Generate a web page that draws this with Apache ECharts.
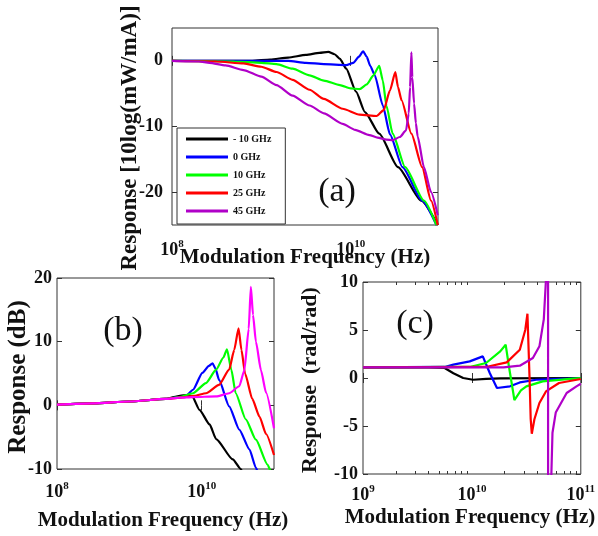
<!DOCTYPE html>
<html><head><meta charset="utf-8">
<script src="https://cdn.jsdelivr.net/npm/echarts@6/dist/echarts.min.js"></script>
<style>html,body{margin:0;padding:0;background:#fff}#c{width:598px;height:536px}</style>
</head><body><div id="c"></div>
<script>
// Frequencies are in GHz (axis labels are shown in Hz as 10^n)
const seriesNames = ['- 10 GHz', '0 GHz', '10 GHz', '25 GHz', '45 GHz'];
const colorsA = ['#000000', '#0000ff', '#00ff00', '#ff0000', '#b000c8'];
const colorsB = ['#000000', '#0000ff', '#00ff00', '#ff0000', '#ff00ff'];

// ---- (a) Response [10log(mW/mA)] ----
const aF0 = [0.1, 0.794, 1.259, 1.995, 3.162, 4.467, 5.623, 6.607, 7.586, 8.913, 11.48, 14.45, 20.89, 33.88, 61.66, 94.41];
const aY0 = [0, 0, 0.2, 0.5, 0.9, 1.2, 1.35, 1.0, 0.3, -1.2, -4.7, -7.8, -11.1, -16.2, -21.3, -25];
const aF1 = [0.1, 1.995, 3.162, 5.012, 8.913, 10.72, 12.30, 13.80, 15.14, 16.60, 18.62, 22.91, 27.54, 38.02, 63.10, 91.20];
const aY1 = [0, 0, -0.3, -0.5, -0.65, -0.3, 0.6, 1.45, 0.6, -0.8, -2.2, -6.8, -11.2, -16.2, -21.3, -25];
const aF2 = [0.1, 0.501, 1, 1.479, 2.239, 3.467, 5.012, 7.586, 10, 12.59, 15.14, 17.78, 20.89, 22.91, 25.12, 29.51, 40.74, 66.07, 91.20];
const aY2 = [0, -0.1, -0.3, -0.5, -1.2, -2.2, -3.0, -3.7, -4.2, -4.3, -3.6, -2.3, -0.76, -3.0, -6.8, -11.1, -16.2, -21.3, -25];
const aF3 = [0.1, 0.316, 0.631, 1, 1.479, 2.239, 3.467, 5.012, 8.128, 12.59, 19.50, 23.44, 27.54, 31.62, 33.88, 37.15, 47.86, 63.10, 79.43, 94.41];
const aY3 = [0, -0.1, -0.4, -0.9, -1.7, -2.9, -4.4, -5.8, -7.3, -8.2, -8.4, -7.5, -4.5, -1.7, -4.0, -6.0, -11.1, -16.2, -21.3, -25];
const aF4 = [0.1, 0.2, 0.263, 0.398, 0.631, 1, 1.479, 2.239, 3.467, 5.012, 8.128, 11.22, 16.22, 19.95, 25.12, 29.51, 35.48, 41.69, 44.67, 46.24, 47.86, 48.98, 51.29, 53.70, 56.23, 66.07, 79.43, 94.41];
const aY4 = [0, -0.1, -0.3, -0.7, -1.4, -2.4, -3.7, -5.3, -6.8, -8.0, -9.6, -10.5, -11.3, -11.7, -12.0, -12.1, -11.6, -10.6, -8.0, -4.0, 1.3, -2.5, -6.5, -9.5, -11.5, -16.2, -20.0, -23.5];

// ---- (b) Response (dB) ----
const bF0 = [0.1, 0.316, 1, 3.16, 5.01, 6.31, 7.41, 9.33, 12.88, 15.85, 26.92, 34.67, 36.31];
const bY0 = [0.1, 0.3, 0.6, 1.0, 1.5, 1.6, 1.4, -0.7, -3.0, -5.3, -8.5, -10, -10.4];
const bF1 = [0.1, 0.316, 1, 3.16, 5.01, 6.03, 7.59, 10.23, 12.59, 14.13, 15.49, 17.38, 23.99, 33.11, 45.71, 56.23, 58.88];
const bY1 = [0.1, 0.3, 0.6, 1.0, 1.3, 1.4, 2.45, 5.1, 6.2, 6.6, 5.8, 4.0, -0.15, -3.8, -6.9, -9.8, -10.3];
const bF2 = [0.1, 0.316, 1, 3.16, 5.01, 7.59, 11.48, 15.85, 19.95, 22.39, 25.70, 29.51, 40.74, 56.23, 81.28, 89.13];
const bY2 = [0.1, 0.3, 0.6, 1.0, 1.3, 1.9, 3.5, 5.6, 7.5, 8.8, 5.6, 1.9, -2.2, -5.4, -9.3, -10.3];
const bF3 = [0.1, 0.316, 1, 3.16, 5.01, 7.94, 11.48, 17.38, 23.99, 28.18, 32.36, 35.48, 39.81, 50.12, 63.10, 77.62, 100];
const bY3 = [0.1, 0.3, 0.6, 1.0, 1.2, 1.5, 1.9, 3.2, 5.6, 8.7, 12.1, 8.7, 5.0, 1.0, -1.8, -4.5, -7.8];
const bF4 = [0.1, 0.316, 1, 3.16, 5.01, 7.59, 15.85, 23.99, 33.11, 38.90, 44.67, 47.86, 51.29, 56.23, 66.07, 77.62, 100];
const bY4 = [0.1, 0.3, 0.6, 1.0, 1.2, 1.3, 1.4, 1.9, 3.0, 5.5, 12.0, 18.6, 14.2, 10.0, 5.5, 2.0, -3.6];

// ---- (c) Response (rad/rad) ----
const cF0 = [1, 3.98, 5.62, 6.76, 8.32, 10.23, 13.49, 18.20, 100];
const cY0 = [1.1, 1.1, 1.04, 0.5, 0.0, -0.18, -0.1, -0.04, 0];
const cF1 = [1, 5.62, 6.76, 9.55, 12.59, 13.06, 14.62, 16.98, 17.38, 22.39, 27.54, 38.90, 64.57, 100];
const cY1 = [1.1, 1.15, 1.39, 1.73, 2.25, 2.3, 0.5, -1.04, -1.1, -0.87, -0.46, -0.18, -0.1, -0.05];
const cF2 = [1, 9.55, 13.49, 18.20, 20.42, 21.88, 23.99, 24.55, 28.18, 31.62, 44.67, 79.43, 100];
const cY2 = [1.1, 1.15, 1.56, 2.77, 3.47, 1.2, -1.56, -2.3, -1.3, -0.87, -0.35, -0.1, 0];
const cF3 = [1, 13.49, 20.89, 27.54, 30.90, 32.36, 33.88, 34.67, 35.48, 37.50, 41.69, 47.86, 63.10, 100];
const cY3 = [1.1, 1.15, 1.63, 2.95, 5.0, 6.7, -0.2, -4.3, -5.8, -4.3, -2.6, -1.4, -0.52, -0.1];
const cF4 = [1, 19.50, 27.54, 36.31, 41.69, 45.71, 47.86, 50.00, 50.12, 53.70, 54.95, 58.88, 74.13, 91.20, 100];
const cY4 = [1.1, 1.1, 1.28, 2.08, 3.3, 6.1, 10.2, 60, -60, -9.9, -5.7, -3.6, -1.56, -0.87, -0.6];

// ---- ticks ----
const xTicksAB = [0.1, 10];          // 10^8, 10^10 Hz
const xTicksC = [1, 10, 100];        // 10^9, 10^10, 10^11 Hz
const xMinorC = [2, 3, 4, 5, 6, 7, 8, 9, 20, 30, 40, 50, 60, 70, 80, 90];
const yTicksA = [-20, -10, 0];

const FONT = 'Liberation Serif';
const pair = (f, y) => f.map((v, i) => [v, y[i]]);

const seriesA = [[aF0, aY0], [aF1, aY1], [aF2, aY2], [aF3, aY3], [aF4, aY4]];
const seriesB = [[bF0, bY0], [bF1, bY1], [bF2, bY2], [bF3, bY3], [bF4, bY4]];
const seriesC = [[cF0, cY0], [cF1, cY1], [cF2, cY2], [cF3, cY3], [cF4, cY4]];

const rich = {
  b: { fontFamily: FONT, fontWeight: 'bold', fontSize: 18, color: '#111' },
  s: { fontFamily: FONT, fontWeight: 'bold', fontSize: 11, color: '#111', padding: [0, 0, 12, 0] }
};
const expFmt = v => '{b|10}{s|' + (Math.round(Math.log10(v)) + 9) + '}';

function xMain(gi, min, max, ticks, margin) {
  return {
    type: 'log', gridIndex: gi, min: min, max: max, position: 'bottom',
    axisLine: { show: false },
    axisTick: { inside: true, length: 5, customValues: ticks, lineStyle: { color: '#333' } },
    axisLabel: { customValues: ticks, formatter: expFmt, rich: rich, margin: margin },
    splitLine: { show: false }, minorTick: { show: false }
  };
}
function xMirror(gi, min, max, ticks, len) {
  return {
    type: 'log', gridIndex: gi, min: min, max: max, position: 'top',
    axisLine: { show: false },
    axisTick: { inside: true, length: len, customValues: ticks, lineStyle: { color: '#333' } },
    axisLabel: { show: false }, splitLine: { show: false }
  };
}
function xMinorBottom(gi, min, max, ticks) {
  const o = xMirror(gi, min, max, ticks, 3);
  o.position = 'bottom';
  return o;
}
function yMain(gi, min, max, interval, custom, margin) {
  const o = {
    type: 'value', gridIndex: gi, min: min, max: max, position: 'left',
    axisLine: { show: false },
    axisTick: { inside: true, length: 5, lineStyle: { color: '#333' } },
    axisLabel: { fontFamily: FONT, fontWeight: 'bold', fontSize: 18, color: '#111', margin: margin },
    splitLine: { show: false }
  };
  if (interval) o.interval = interval;
  if (custom) { o.axisTick.customValues = custom; o.axisLabel.customValues = custom; }
  return o;
}
function yMirror(gi, min, max, interval, custom) {
  const o = yMain(gi, min, max, interval, custom, 0);
  o.position = 'right';
  o.axisLabel = { show: false };
  return o;
}

const grids = [
  { left: 172, top: 28, width: 266, height: 197 },
  { left: 57, top: 278, width: 217, height: 191 },
  { left: 363, top: 282, width: 218, height: 192 }
].map(g => Object.assign(g, { show: true, borderColor: '#333', borderWidth: 1, backgroundColor: 'transparent' }));

const xAxes = [
  xMain(0, 0.1, 95, xTicksAB, 14),      // 0
  xMirror(0, 0.1, 95, xTicksAB, 5),     // 1
  xMain(1, 0.1, 100, xTicksAB, 12),     // 2
  xMirror(1, 0.1, 100, xTicksAB, 5),    // 3
  xMain(2, 1, 100, xTicksC, 10),        // 4
  xMirror(2, 1, 100, xTicksC, 5),       // 5
  xMinorBottom(2, 1, 100, xMinorC),     // 6
  xMirror(2, 1, 100, xMinorC, 3)        // 7
];
const yAxes = [
  yMain(0, -25, 5, null, yTicksA, 9),   // 0
  yMirror(0, -25, 5, null, yTicksA),    // 1
  yMain(1, -10, 20, 10, null, 5),       // 2
  yMirror(1, -10, 20, 10, null),        // 3
  yMain(2, -10, 10, 5, null, 5),        // 4
  yMirror(2, -10, 10, 5, null)          // 5
];

const series = [];
function addSet(set, colors, xi, yi, smooth) {
  set.forEach((s, i) => series.push({
    type: 'line', name: seriesNames[i], xAxisIndex: xi, yAxisIndex: yi,
    data: pair(s[0], s[1]), showSymbol: false, symbol: 'none',
    smooth: smooth, smoothMonotone: 'x',
    lineStyle: { color: colors[i], width: 2.2 }, itemStyle: { color: colors[i] },
    clip: true, silent: true, z: 2 + i
  }));
}
addSet(seriesA, colorsA, 0, 0, 0.2);
addSet(seriesB, colorsB, 2, 2, 0.2);
addSet(seriesC, colorsA, 4, 4, false);

function txt(x, y, text, size, weight, rot) {
  return {
    type: 'text', x: x, y: y, rotation: rot || 0, z: 100,
    style: {
      text: text, fill: '#111', font: weight + ' ' + size + 'px "' + FONT + '"',
      align: 'center', verticalAlign: 'middle', textAlign: 'center', textVerticalAlign: 'middle'
    }
  };
}

const chart = echarts.init(document.getElementById('c'), null, { renderer: 'canvas' });
chart.setOption({
  animation: false,
  backgroundColor: '#ffffff',
  grid: grids,
  xAxis: xAxes,
  yAxis: yAxes,
  legend: {
    data: seriesNames, orient: 'vertical', left: 177, top: 128,
    padding: [6, 14, 8, 9], itemWidth: 42, itemHeight: 3, itemGap: 8, icon: 'rect',
    borderColor: '#333', borderWidth: 1, backgroundColor: '#fff', selectedMode: false,
    textStyle: { fontFamily: FONT, fontWeight: 'bold', fontSize: 10, color: '#111' }
  },
  series: series,
  graphic: [
    txt(305, 258, 'Modulation Frequency (Hz)', 21, 'bold'),
    txt(163, 521, 'Modulation Frequency (Hz)', 21, 'bold'),
    txt(470, 518, 'Modulation Frequency (Hz)', 21, 'bold'),
    txt(130, 138, 'Response [10log(mW/mA)]', 23, 'bold', Math.PI / 2),
    txt(19, 377, 'Response (dB)', 25, 'bold', Math.PI / 2),
    txt(310, 380, 'Response  (rad/rad)', 22, 'bold', Math.PI / 2),
    txt(337, 192, '(a)', 34, 'normal'),
    txt(123, 331, '(b)', 34, 'normal'),
    txt(415, 324, '(c)', 34, 'normal')
  ]
});
</script>
</body></html>
